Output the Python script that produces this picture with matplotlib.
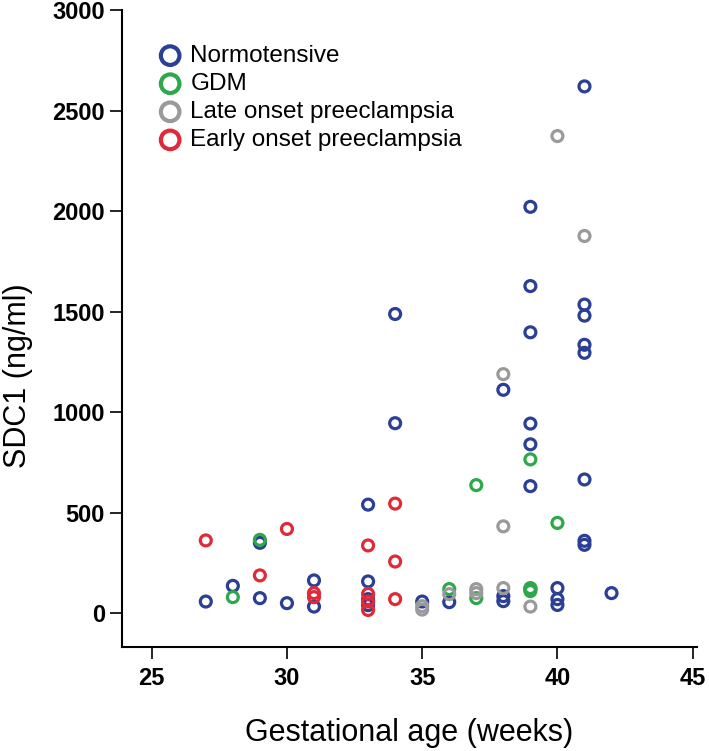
import matplotlib
matplotlib.use("Agg")
import matplotlib.pyplot as plt

plt.rcParams['font.family'] = ['Liberation Sans', 'DejaVu Sans']

# Data (weeks, ng/ml)
normo_weeks = [27, 28, 29, 29, 30, 31, 31, 33, 33, 33, 33, 34, 34, 35, 36,
               38, 38, 38, 39, 39, 39, 39, 39, 39, 39, 40, 40, 40,
               41, 41, 41, 41, 41, 41, 41, 41, 42]
normo_sdc1 = [58, 136, 350, 75, 50, 163, 33, 540, 158, 70, 40, 1488, 945, 58, 55,
              1111, 85, 60, 2021, 1627, 1397, 943, 840, 632, 120, 125, 70, 41,
              2620, 1535, 1480, 1335, 1295, 665, 360, 340, 100]

gdm_weeks = [28, 29, 36, 37, 37, 39, 39, 39, 40]
gdm_sdc1 = [80, 365, 120, 637, 75, 765, 125, 110, 449]

late_weeks = [35, 35, 36, 37, 37, 38, 38, 38, 39, 40, 41]
late_sdc1 = [35, 18, 95, 120, 100, 1189, 432, 125, 33, 2373, 1876]

early_weeks = [27, 29, 30, 31, 31, 33, 33, 33, 33, 34, 34, 34]
early_sdc1 = [362, 188, 419, 100, 80, 337, 96, 58, 16, 545, 257, 70]

groups = [
    ("Normotensive", normo_weeks, normo_sdc1, "#2b3f95"),
    ("GDM", gdm_weeks, gdm_sdc1, "#2ea84a"),
    ("Late onset preeclampsia", late_weeks, late_sdc1, "#9a9a9a"),
    ("Early onset preeclampsia", early_weeks, early_sdc1, "#e02a3a"),
]

fig = plt.figure(figsize=(7.09, 7.51), dpi=100)
ax = fig.add_axes([0.1716, 0.1385, 0.8111, 0.8482])

for label, x, y, color in groups:
    ax.scatter(x, y, s=62, facecolors="none", edgecolors=color,
               linewidths=2.3, label=label)

ax.set_xlim(23.89, 45.15)
ax.set_ylim(-168, 3000)
ax.set_xticks([25, 30, 35, 40, 45])
ax.set_yticks([0, 500, 1000, 1500, 2000, 2500, 3000])

for side in ["top", "right"]:
    ax.spines[side].set_visible(False)
for side in ["left", "bottom"]:
    ax.spines[side].set_linewidth(1.5)

ax.tick_params(axis="both", length=8.5, width=1.2, labelsize=17)
ax.tick_params(axis="y", pad=3.5)
ax.tick_params(axis="x", pad=6)
for t in ax.get_xticklabels() + ax.get_yticklabels():
    t.set_fontweight("bold")

ax.set_ylabel("SDC1 (ng/ml)", fontsize=22)
ax.set_xlabel("Gestational age (weeks)", fontsize=22)
ax.yaxis.set_label_coords(18 / 709, 0.5, transform=fig.transFigure)
ax.xaxis.set_label_coords(409 / 709, 1 - 733 / 751, transform=fig.transFigure)
ax.xaxis.label.set_va("center")
ax.yaxis.label.set_va("center")

leg = ax.legend(loc="upper left", bbox_to_anchor=(158 / 709, 1 - 45 / 751),
                bbox_transform=fig.transFigure, frameon=False, fontsize=17.5,
                borderpad=0, borderaxespad=0, handlelength=1.0,
                handletextpad=0.33, labelspacing=0.25, scatterpoints=1,
                markerscale=1.7)
for h in leg.legend_handles:
    h.set_linewidth(3.0)

fig.savefig("out.png", dpi=100)
